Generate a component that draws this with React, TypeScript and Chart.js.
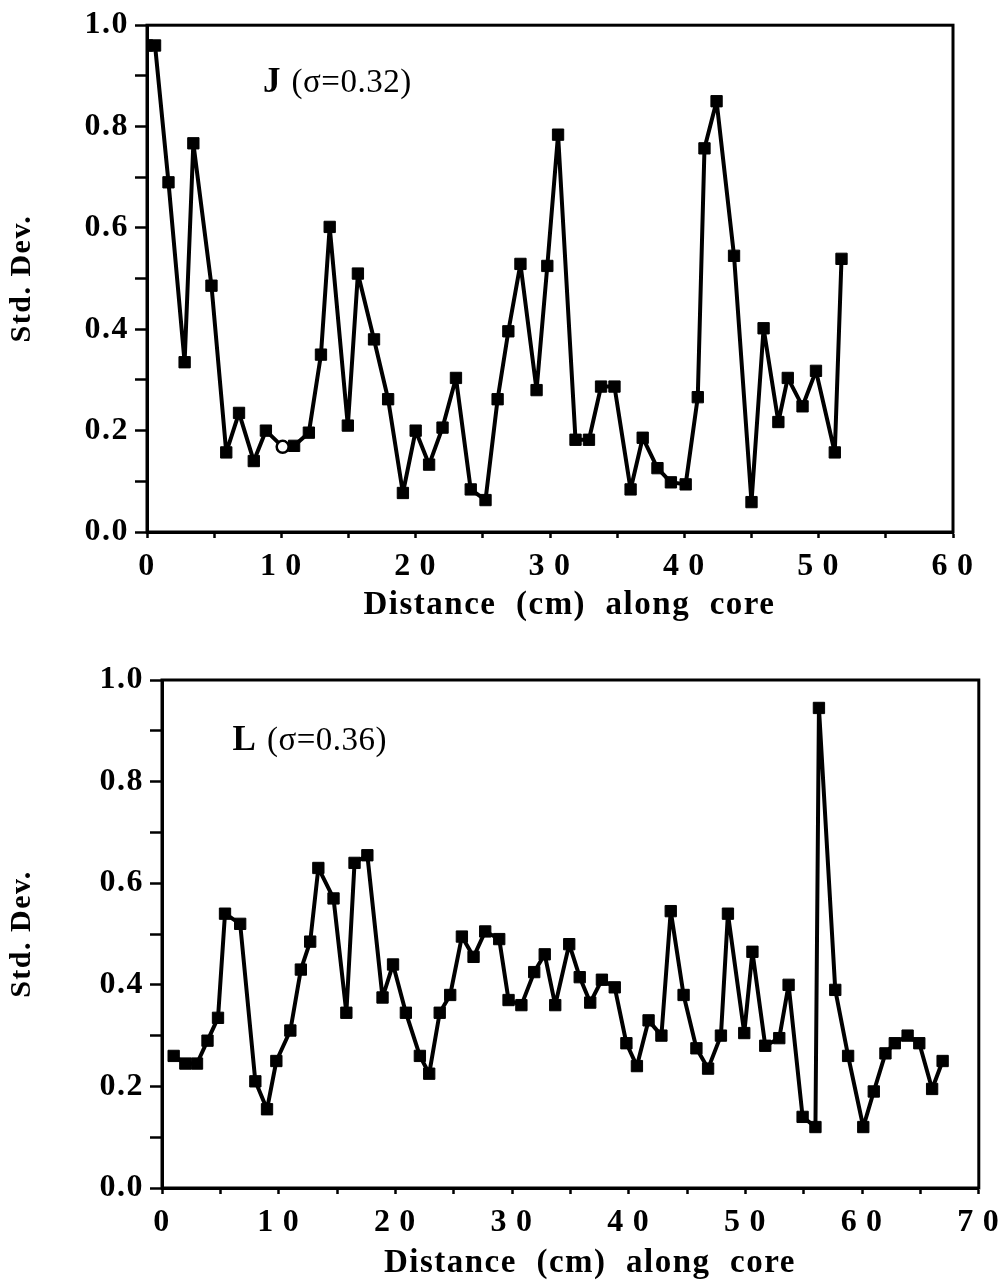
import React, { useEffect, useRef } from 'react';
import { Chart, registerables } from 'chart.js';

Chart.register(...registerables);

const FONT = '"Liberation Serif", "Times New Roman", Times, serif';
const PAGE_W = 1008;

// Panel J: distance along core (cm) and standard deviation
const J_DIST = [0, 0.6, 1.6, 2.8, 3.45, 4.8, 5.9, 6.85, 7.95, 8.85, 10.1, 10.95, 12.05, 12.95, 13.6, 14.95, 15.7, 16.9, 17.95, 19.05, 20.0, 21.0, 22.0, 23.0, 24.1, 25.2, 26.1, 26.9, 27.8, 29.0, 29.8, 30.6, 31.9, 32.9, 33.8, 34.8, 36.0, 36.9, 38.0, 39.0, 40.1, 41.0, 41.5, 42.4, 43.7, 45.0, 45.9, 47.0, 47.7, 48.8, 49.8, 51.2, 51.7];
const J_STD = [0.96, 0.96, 0.69, 0.335, 0.767, 0.486, 0.157, 0.235, 0.14, 0.2, 0.168, 0.17, 0.196, 0.35, 0.602, 0.21, 0.51, 0.38, 0.262, 0.077, 0.2, 0.133, 0.206, 0.304, 0.084, 0.063, 0.262, 0.396, 0.529, 0.28, 0.525, 0.784, 0.182, 0.182, 0.287, 0.287, 0.084, 0.186, 0.126, 0.098, 0.094, 0.266, 0.757, 0.85, 0.545, 0.059, 0.402, 0.217, 0.304, 0.248, 0.318, 0.157, 0.539];
const J_HOLLOW_INDEX = 10;

// Panel L
const L_DIST = [1.0, 2.0, 3.0, 3.9, 4.8, 5.4, 6.7, 8.0, 9.0, 9.8, 11.0, 11.9, 12.7, 13.4, 14.7, 15.8, 16.5, 17.6, 18.9, 19.8, 20.9, 22.1, 22.9, 23.8, 24.7, 25.7, 26.7, 27.7, 28.9, 29.7, 30.8, 31.9, 32.8, 33.7, 34.9, 35.8, 36.7, 37.7, 38.8, 39.8, 40.7, 41.7, 42.8, 43.6, 44.7, 45.8, 46.8, 47.9, 48.5, 49.9, 50.6, 51.7, 52.9, 53.7, 54.9, 56.0, 56.3, 57.7, 58.8, 60.1, 61.0, 62.0, 62.8, 63.9, 64.9, 66.0, 66.9];
const L_STD = [0.26, 0.245, 0.245, 0.29, 0.335, 0.54, 0.52, 0.21, 0.155, 0.25, 0.31, 0.43, 0.485, 0.63, 0.57, 0.345, 0.64, 0.655, 0.375, 0.44, 0.345, 0.26, 0.225, 0.345, 0.38, 0.495, 0.455, 0.505, 0.49, 0.37, 0.36, 0.425, 0.46, 0.36, 0.48, 0.415, 0.365, 0.41, 0.395, 0.285, 0.24, 0.33, 0.3, 0.545, 0.38, 0.275, 0.235, 0.3, 0.54, 0.305, 0.465, 0.28, 0.295, 0.4, 0.14, 0.12, 0.945, 0.39, 0.26, 0.12, 0.19, 0.265, 0.285, 0.3, 0.285, 0.195, 0.25];

const X_TITLE = '    Distance  (cm)  along  core';
const Y_TITLE = 'Std. Dev.';

type Panel = {
  dist: number[];
  std: number[];
  xMax: number;
  height: number;
  left: number;
  right: number;
  top: number;
  bottom: number;
  titlePad: number;
  letter: string;
  sigma: string;
  noteX: number;
  noteY: number;
  hollow: number;
};

const PANEL_J: Panel = {
  dist: J_DIST, std: J_STD, xMax: 60, height: 640,
  left: 147, right: 953, top: 22, bottom: 532, titlePad: 15,
  letter: 'J', sigma: '(σ=0.32)', noteX: 8.64, noteY: 0.869, hollow: J_HOLLOW_INDEX,
};

const PANEL_L: Panel = {
  dist: L_DIST, std: L_STD, xMax: 70, height: 643,
  left: 162, right: 984, top: 40, bottom: 548, titlePad: 0,
  letter: 'L', sigma: '(σ=0.36)', noteX: 6.05, noteY: 0.862, hollow: -1,
};

function framePlugin(p: Panel) {
  return {
    id: 'frame_' + p.letter,
    beforeDraw(chart: any) {
      chart.ctx.letterSpacing = '1.5px';
    },
    afterDraw(chart: any) {
      const ctx = chart.ctx;
      const a = chart.chartArea;
      ctx.save();
      ctx.lineWidth = 3;
      ctx.strokeStyle = '#000';
      ctx.strokeRect(a.left, a.top, a.right - a.left, a.bottom - a.top);
      const xs = chart.scales.x;
      const ys = chart.scales.y;
      const px = xs.getPixelForValue(p.noteX);
      const py = ys.getPixelForValue(p.noteY);
      ctx.fillStyle = '#000';
      ctx.textBaseline = 'alphabetic';
      ctx.textAlign = 'left';
      ctx.letterSpacing = '0px';
      ctx.font = `bold 35px ${FONT}`;
      ctx.fillText(p.letter, px, py);
      const w = ctx.measureText(p.letter).width;
      ctx.letterSpacing = '0.5px';
      ctx.font = `33px ${FONT}`;
      ctx.fillText(p.sigma, px + w + 11, py);
      ctx.restore();
    },
  };
}

function makeConfig(p: Panel): any {
  const data = p.dist.map((x, i) => ({ x, y: p.std[i] }));
  const tickFont = { family: FONT, size: 32, weight: 'bold' as const };
  return {
    type: 'line',
    data: {
      datasets: [
        {
          data,
          borderColor: '#000',
          borderWidth: 4,
          borderJoinStyle: 'round',
          tension: 0,
          fill: false,
          pointStyle: (c: any) => (c.dataIndex === p.hollow ? 'circle' : 'rect'),
          pointRadius: (c: any) => (c.dataIndex === p.hollow ? 6 : 8),
          pointBackgroundColor: (c: any) => (c.dataIndex === p.hollow ? '#fff' : '#000'),
          pointBorderColor: '#000',
          pointBorderWidth: (c: any) => (c.dataIndex === p.hollow ? 2.5 : 1),
        },
      ],
    },
    options: {
      responsive: false,
      animation: false,
      layout: { padding: { top: p.top, right: PAGE_W - p.right, left: 0, bottom: 0 } },
      plugins: { legend: { display: false }, tooltip: { enabled: false } },
      scales: {
        x: {
          type: 'linear',
          min: 0,
          max: p.xMax,
          afterFit: (s: any) => {
            s.height = p.height - p.bottom;
          },
          ticks: {
            stepSize: 5,
            autoSkip: false,
            maxRotation: 0,
            padding: 10,
            color: '#000',
            font: tickFont,
            callback: (v: number) => (Math.round(v) % 10 === 0 ? String(Math.round(v)).split('').join('\u2009') : ''),
          },
          grid: { drawOnChartArea: false, tickLength: 6, tickWidth: 2.5, tickColor: '#000' },
          border: { display: true, color: '#000', width: 3 },
          title: {
            display: true,
            text: X_TITLE,
            color: '#000',
            font: { family: FONT, size: 33, weight: 'bold', lineHeight: 1.2 },
            padding: { top: 0, bottom: p.titlePad },
          },
        },
        y: {
          type: 'linear',
          min: 0,
          max: 1,
          afterFit: (s: any) => {
            s.width = p.left;
          },
          ticks: {
            stepSize: 0.1,
            autoSkip: false,
            padding: 6,
            color: '#000',
            font: tickFont,
            callback: (v: number) => (Math.round(v * 10) % 2 === 0 ? Number(v).toFixed(1) : ''),
          },
          grid: { drawOnChartArea: false, tickLength: 12, tickWidth: 2.5, tickColor: '#000' },
          border: { display: true, color: '#000', width: 3 },
          title: {
            display: true,
            text: Y_TITLE,
            color: '#000',
            font: { family: FONT, size: 30, weight: 'bold', lineHeight: 1.2 },
            padding: { top: 4, bottom: 0 },
          },
        },
      },
    },
    plugins: [framePlugin(p)],
  };
}

function ChartCanvas({ panel, top }: { panel: Panel; top: number }) {
  const ref = useRef<HTMLCanvasElement | null>(null);
  useEffect(() => {
    if (!ref.current) return;
    const chart = new Chart(ref.current, makeConfig(panel));
    return () => chart.destroy();
  }, [panel]);
  return (
    <canvas
      ref={ref}
      width={PAGE_W}
      height={panel.height}
      style={{ position: 'absolute', left: 0, top, width: PAGE_W, height: panel.height }}
    />
  );
}

export default function App() {
  return (
    <div style={{ position: 'absolute', left: 0, top: 0, width: PAGE_W, height: 1283, background: '#fff' }}>
      <ChartCanvas panel={PANEL_J} top={0} />
      <ChartCanvas panel={PANEL_L} top={640} />
    </div>
  );
}
